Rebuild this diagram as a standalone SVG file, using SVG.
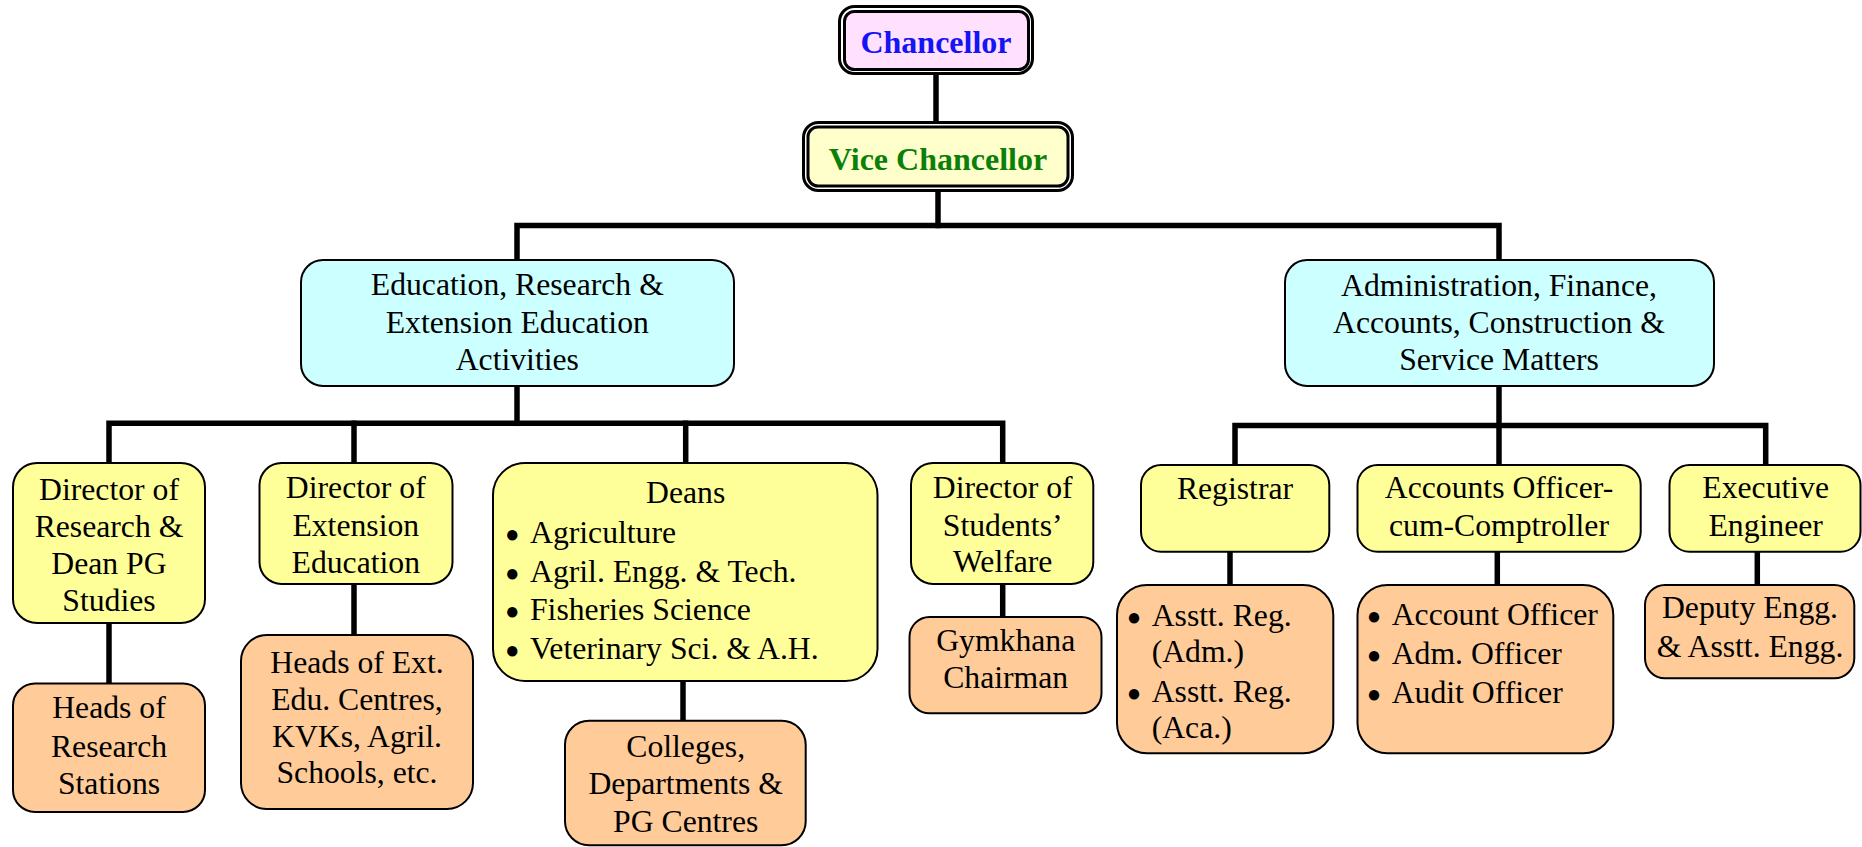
<svg xmlns="http://www.w3.org/2000/svg" width="1862" height="847" viewBox="0 0 1862 847">
<style>
text{font-family:"Liberation Serif","Times New Roman",serif;font-size:31.7px;fill:#000}
.c{text-anchor:middle}
.b{text-anchor:middle;font-size:24px}
.box{stroke:#000;stroke-width:2}
.y{fill:#FFFF99}
.o{fill:#FFCC99}
.cy{fill:#CCFFFF}
.con{stroke:#000;stroke-width:5.5;fill:none;stroke-linecap:square}
.title{font-weight:bold;font-size:32px}
</style>
<rect width="1862" height="847" fill="#fff"/>
<g id="connectors">
<line class="con" x1="936" y1="74" x2="936" y2="121"/>
<line class="con" x1="938" y1="191" x2="938" y2="225.5"/>
<polyline class="con" points="517,260 517,225.5 1499,225.5 1499,260"/>
<line class="con" x1="517" y1="386" x2="517" y2="423.3"/>
<polyline class="con" points="109,462 109,423.3 1002.7,423.3 1002.7,462"/>
<line class="con" x1="354" y1="423.3" x2="354" y2="462"/>
<line class="con" x1="685.7" y1="423.3" x2="685.7" y2="462"/>
<line class="con" x1="1499" y1="386" x2="1499" y2="465"/>
<polyline class="con" points="1235,465 1235,425.5 1765.7,425.5 1765.7,465"/>
<line class="con" x1="109" y1="623" x2="109" y2="683"/>
<line class="con" x1="354" y1="584" x2="354" y2="635"/>
<line class="con" x1="683" y1="681" x2="683" y2="720"/>
<line class="con" x1="1002.7" y1="584" x2="1002.7" y2="616.7"/>
<line class="con" x1="1230" y1="551.7" x2="1230" y2="585"/>
<line class="con" x1="1497.3" y1="551.7" x2="1497.3" y2="585"/>
<line class="con" x1="1757.3" y1="551.7" x2="1757.3" y2="585"/>
</g>
<g id="chancellor">
<rect x="839.5" y="6.5" width="193" height="67" rx="15" fill="#fff" stroke="#000" stroke-width="3"/>
<rect x="844.5" y="11.5" width="184" height="58" rx="10" fill="#FFE0FF" stroke="#000" stroke-width="3"/>
<text class="c title" x="936" y="53" style="fill:#1414F5">Chancellor</text>
</g>
<g id="vice-chancellor">
<rect x="803.5" y="122.5" width="269" height="68" rx="15" fill="#fff" stroke="#000" stroke-width="3"/>
<rect x="808" y="127" width="260" height="59" rx="10" fill="#FFFFCC" stroke="#000" stroke-width="3"/>
<text class="c title" x="938" y="170" style="fill:#0A800A">Vice Chancellor</text>
</g>
<g id="education">
<rect class="box cy" x="301" y="260" width="433" height="126" rx="22"/>
<text class="c" x="517.3" y="295">Education, Research &amp;</text>
<text class="c" x="517.3" y="332.5">Extension Education</text>
<text class="c" x="517.3" y="370">Activities</text>
</g>
<g id="administration">
<rect class="box cy" x="1285" y="260" width="429" height="126" rx="22"/>
<text class="c" x="1499" y="296">Administration, Finance,</text>
<text class="c" x="1499" y="332.7">Accounts, Construction &amp;</text>
<text class="c" x="1499" y="370">Service Matters</text>
</g>
<g id="director-research">
<rect class="box y" x="13" y="463" width="192" height="160" rx="24"/>
<text class="c" x="109" y="500">Director of</text>
<text class="c" x="109" y="537">Research &amp;</text>
<text class="c" x="109" y="574">Dean PG</text>
<text class="c" x="109" y="611">Studies</text>
</g>
<g id="heads-research">
<rect class="box o" x="13" y="683.5" width="192" height="128.5" rx="22"/>
<text class="c" x="109" y="718.3">Heads of</text>
<text class="c" x="109" y="756.5">Research</text>
<text class="c" x="109" y="794">Stations</text>
</g>
<g id="director-extension">
<rect class="box y" x="259.5" y="463" width="193" height="121" rx="22"/>
<text class="c" x="355.8" y="498">Director of</text>
<text class="c" x="355.8" y="536">Extension</text>
<text class="c" x="355.8" y="572.7">Education</text>
</g>
<g id="heads-extension">
<rect class="box o" x="241" y="635" width="232" height="174" rx="26"/>
<text class="c" x="357" y="673.3">Heads of Ext.</text>
<text class="c" x="357" y="710">Edu. Centres,</text>
<text class="c" x="357" y="746.7">KVKs, Agril.</text>
<text class="c" x="357" y="783.3">Schools, etc.</text>
</g>
<g id="deans">
<rect class="box y" x="493" y="463" width="384.5" height="218" rx="32"/>
<text class="c" x="685.7" y="503.3">Deans</text>
<text><tspan class="b" x="512.3" y="541.7">●</tspan><tspan x="530" y="542.7">Agriculture</tspan><tspan class="b" x="512.3" y="580.7">●</tspan><tspan x="530" y="581.7">Agril. Engg. &amp; Tech.</tspan><tspan class="b" x="512.3" y="619">●</tspan><tspan x="530" y="620">Fisheries Science</tspan><tspan class="b" x="512.3" y="658.3">●</tspan><tspan x="530" y="659.3">Veterinary Sci. &amp; A.H.</tspan></text>
</g>
<g id="colleges">
<rect class="box o" x="565" y="720.7" width="240.7" height="124.5" rx="24"/>
<text class="c" x="685.7" y="756.7">Colleges,</text>
<text class="c" x="685.7" y="794.3">Departments &amp;</text>
<text class="c" x="685.7" y="831.7">PG Centres</text>
</g>
<g id="director-students">
<rect class="box y" x="911" y="463" width="182.3" height="121" rx="22"/>
<text class="c" x="1002.7" y="498.3">Director of</text>
<text class="c" x="1002.7" y="536">Students’</text>
<text class="c" x="1002.7" y="572.3">Welfare</text>
</g>
<g id="gymkhana">
<rect class="box o" x="909.5" y="617" width="192" height="96.3" rx="20"/>
<text class="c" x="1005.7" y="650.7">Gymkhana</text>
<text class="c" x="1005.7" y="688.3">Chairman</text>
</g>
<g id="registrar">
<rect class="box y" x="1141" y="465" width="188.3" height="86.7" rx="20"/>
<text class="c" x="1235" y="499.3">Registrar</text>
</g>
<g id="asstt-registrars">
<rect class="box o" x="1117" y="585" width="216.3" height="168.3" rx="30"/>
<text><tspan class="b" x="1134" y="625">●</tspan><tspan x="1151.7" y="626">Asstt. Reg.</tspan><tspan x="1151.7" y="662">(Adm.)</tspan><tspan class="b" x="1134" y="700.7">●</tspan><tspan x="1151.7" y="701.7">Asstt. Reg.</tspan><tspan x="1151.7" y="738.3">(Aca.)</tspan></text>
</g>
<g id="accounts-officer">
<rect class="box y" x="1357.5" y="465" width="283.2" height="86.7" rx="20"/>
<text class="c" x="1499" y="498.3">Accounts Officer-</text>
<text class="c" x="1499" y="535.7">cum-Comptroller</text>
</g>
<g id="account-officers">
<rect class="box o" x="1357.5" y="585" width="255.8" height="168.3" rx="30"/>
<text><tspan class="b" x="1374" y="624">●</tspan><tspan x="1391.7" y="625">Account Officer</tspan><tspan class="b" x="1374" y="663">●</tspan><tspan x="1391.7" y="664">Adm. Officer</tspan><tspan class="b" x="1374" y="701.7">●</tspan><tspan x="1391.7" y="702.7">Audit Officer</tspan></text>
</g>
<g id="executive-engineer">
<rect class="box y" x="1669.5" y="465" width="191" height="86.7" rx="20"/>
<text class="c" x="1765.7" y="498.3">Executive</text>
<text class="c" x="1765.7" y="536">Engineer</text>
</g>
<g id="deputy-engineer">
<rect class="box o" x="1645" y="585" width="209.3" height="93.3" rx="20"/>
<text class="c" x="1750" y="618.3">Deputy Engg.</text>
<text class="c" x="1750" y="656.7">&amp; Asstt. Engg.</text>
</g>
</svg>
